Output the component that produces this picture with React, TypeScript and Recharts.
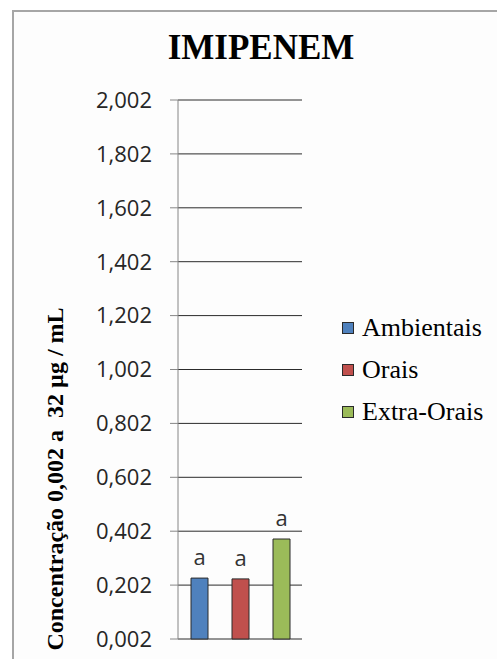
import { BarChart, Bar, XAxis, YAxis, CartesianGrid, LabelList } from 'recharts';

const seriesNames = ['Ambientais', 'Orais', 'Extra-Orais'];
const seriesValues = [0.228, 0.225, 0.373];
const seriesColors = ['#4F81BD', '#C0504D', '#9BBB59'];
const seriesLetters = ['a', 'a', 'a'];
const yTicks = [0.002, 0.202, 0.402, 0.602, 0.802, 1.002, 1.202, 1.402, 1.602, 1.802, 2.002];

const row: Record<string, number | string> = { name: 'IMIPENEM' };
seriesNames.forEach((n, i) => {
    row[n] = seriesValues[i];
});
const data = [row];

const fmt = (v: number) => v.toFixed(3).replace('.', ',');

export default function App() {
    return (
        <div style={{ position: 'fixed', left: 0, top: 0, width: 497, height: 659, overflow: 'hidden', background: '#fff' }}>
            <div
                style={{
                    position: 'absolute', left: 12, top: 10, width: 600, height: 800,
                    borderLeft: '2px solid #a6a6a6', borderTop: '2px solid #a6a6a6', background: '#fdfdfd',
                }}
            />
            <div
                style={{
                    position: 'absolute', left: 0, top: 28, width: 522, textAlign: 'center',
                    fontFamily: '"Liberation Serif", "Times New Roman", serif', fontWeight: 'bold', fontSize: 35, color: '#000',
                }}
            >
                IMIPENEM
            </div>
            <div style={{ position: 'absolute', left: 0, top: 0 }}>
                <BarChart
                    width={497}
                    height={659}
                    data={data}
                    margin={{ top: 100, right: 195, bottom: 20, left: 0 }}
                    barGap={24}
                    barSize={17}
                >
                    <CartesianGrid horizontal vertical={false} stroke="#2b2b2b" />
                    <XAxis dataKey="name" hide />
                    <YAxis
                        width={178}
                        domain={[0.002, 2.002]}
                        ticks={yTicks}
                        interval={0}
                        tickFormatter={fmt}
                        tickSize={8}
                        tickMargin={18}
                        stroke="#868686"
                        tick={{ fill: '#262626', fontFamily: '"Open Sans", sans-serif', fontSize: 22 }}
                        label={{
                            content: () => (
                                <text
                                    x={63}
                                    y={479}
                                    transform="rotate(-90, 63, 479)"
                                    textAnchor="middle"
                                    fontFamily='"Liberation Serif", serif'
                                    fontWeight="bold"
                                    fontSize={24}
                                    fill="#000"
                                >
                                    Concentração 0,002 a{'\u00a0\u00a0'}32 µg / mL
                                </text>
                            ),
                        }}
                    />
                    {seriesNames.map((n, i) => (
                        <Bar key={n} dataKey={n} fill={seriesColors[i]} stroke="#2a2a2a" strokeWidth={1} isAnimationActive={false}>
                            <LabelList
                                dataKey={n}
                                position="top"
                                offset={13}
                                formatter={() => seriesLetters[i]}
                                fill="#333"
                                fontFamily='"Open Sans", sans-serif'
                                fontSize={22}
                            />
                        </Bar>
                    ))}
                </BarChart>
            </div>
            <div style={{ position: 'absolute', left: 342, top: 307 }}>
                {seriesNames.map((n, i) => (
                    <div key={n} style={{ display: 'flex', alignItems: 'center', height: 42 }}>
                        <span
                            style={{
                                display: 'inline-block', width: 10, height: 10, background: seriesColors[i],
                                border: '1px solid #2a2a2a', marginRight: 8,
                            }}
                        />
                        <span style={{ fontFamily: '"Liberation Serif", "Times New Roman", serif', fontSize: 26, color: '#000', lineHeight: '30px' }}>
                            {n}
                        </span>
                    </div>
                ))}
            </div>
        </div>
    );
}
